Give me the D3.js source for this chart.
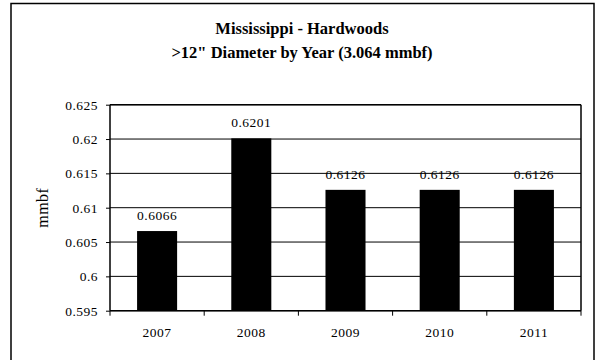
<!DOCTYPE html>
<html><head><meta charset="utf-8">
<script src="https://cdn.jsdelivr.net/npm/d3@7"></script>
<style>body{margin:0;background:#fff}svg{display:block}
svg text{font-family:"Liberation Serif","Times New Roman",Tinos,"DejaVu Serif",serif;}
</style>
</head><body>
<script>
const categories = ["2007","2008","2009","2010","2011"];
const values = [0.6066, 0.6201, 0.6126, 0.6126, 0.6126];
const valueLabels = ["0.6066","0.6201","0.6126","0.6126","0.6126"];
const yTicks = [0.595, 0.6, 0.605, 0.61, 0.615, 0.62, 0.625];
const yTickLabels = ["0.595","0.6","0.605","0.61","0.615","0.62","0.625"];
const titleLines = ["Mississippi - Hardwoods", ">12\" Diameter by Year (3.064 mmbf)"];

const W = 598, H = 360;
const svg = d3.select("body").append("svg").attr("width", W).attr("height", H);

svg.append("rect").attr("x", 11).attr("y", 3.5).attr("width", 583).attr("height", 365)
  .attr("fill", "none").attr("stroke", "#000").attr("stroke-width", 1.5);

const L = 110, R = 581, T = 104.7, B = 310.7;
const x = d3.scaleBand().domain(categories).range([L, R]).paddingInner(0.575).paddingOuter(0.2875);
const y = d3.scaleLinear().domain([0.595, 0.625]).range([B, T]);
const fs = 13.5, ls = 0.5;

// gridlines
svg.append("g").selectAll("line").data(yTicks).join("line")
  .attr("x1", L).attr("x2", R).attr("y1", d => y(d)).attr("y2", d => y(d))
  .attr("stroke", "#000").attr("stroke-width", 1);

// bars
svg.append("g").selectAll("rect").data(values).join("rect")
  .attr("x", (d, i) => x(categories[i])).attr("width", x.bandwidth())
  .attr("y", d => y(d)).attr("height", d => B - y(d)).attr("fill", "#000");

// value labels
svg.append("g").selectAll("text").data(values).join("text")
  .attr("x", (d, i) => x(categories[i]) + x.bandwidth() / 2)
  .attr("y", d => y(d) - 11)
  .attr("text-anchor", "middle").attr("font-size", fs).attr("letter-spacing", ls)
  .text((d, i) => valueLabels[i]);

// plot border right/top
svg.append("line").attr("x1", R).attr("x2", R).attr("y1", T).attr("y2", B).attr("stroke", "#000").attr("stroke-width", 1.5);
svg.append("line").attr("x1", L).attr("x2", R).attr("y1", T).attr("y2", T).attr("stroke", "#000").attr("stroke-width", 1.5);

// y axis
const yAxis = d3.axisLeft(y).tickValues(yTicks).tickFormat((d, i) => yTickLabels[i]).tickSize(4).tickPadding(8);
const gy = svg.append("g").attr("transform", `translate(${L},0)`).call(yAxis);
gy.attr("font-family", null);
gy.select(".domain").attr("stroke-width", 1.5).attr("d", `M0,${T}V${B}`);
gy.selectAll("text").attr("font-size", fs).attr("letter-spacing", ls).attr("fill", "#000");

// x axis
const xAxis = d3.axisBottom(x).tickSize(0).tickPadding(16.5);
const gx = svg.append("g").attr("transform", `translate(0,${B})`).call(xAxis);
gx.attr("font-family", null);
gx.select(".domain").attr("stroke-width", 1.5).attr("d", `M${L},0H${R}`);
gx.selectAll("text").attr("font-size", fs).attr("letter-spacing", ls).attr("fill", "#000");
// category boundary ticks
const bounds = categories.map(c => x(c) - x.step() * x.paddingInner() / 2 ).concat([R]);
bounds[0] = L;
gx.append("g").selectAll("line").data(bounds).join("line")
  .attr("x1", d => d).attr("x2", d => d).attr("y1", 0).attr("y2", 5).attr("stroke", "#000");

// y label
svg.append("text").attr("transform", `translate(48,${(T + B) / 2}) rotate(-90)`)
  .attr("text-anchor", "middle").attr("font-size", 16).attr("letter-spacing", 0.5).text("mmbf");

// title
svg.append("g").selectAll("text").data(titleLines).join("text")
  .attr("x", 302).attr("y", (d, i) => 34 + i * 23.5)
  .attr("text-anchor", "middle").attr("font-weight", "bold")
  .attr("font-size", 16.5).text(d => d);
</script>
</body></html>
